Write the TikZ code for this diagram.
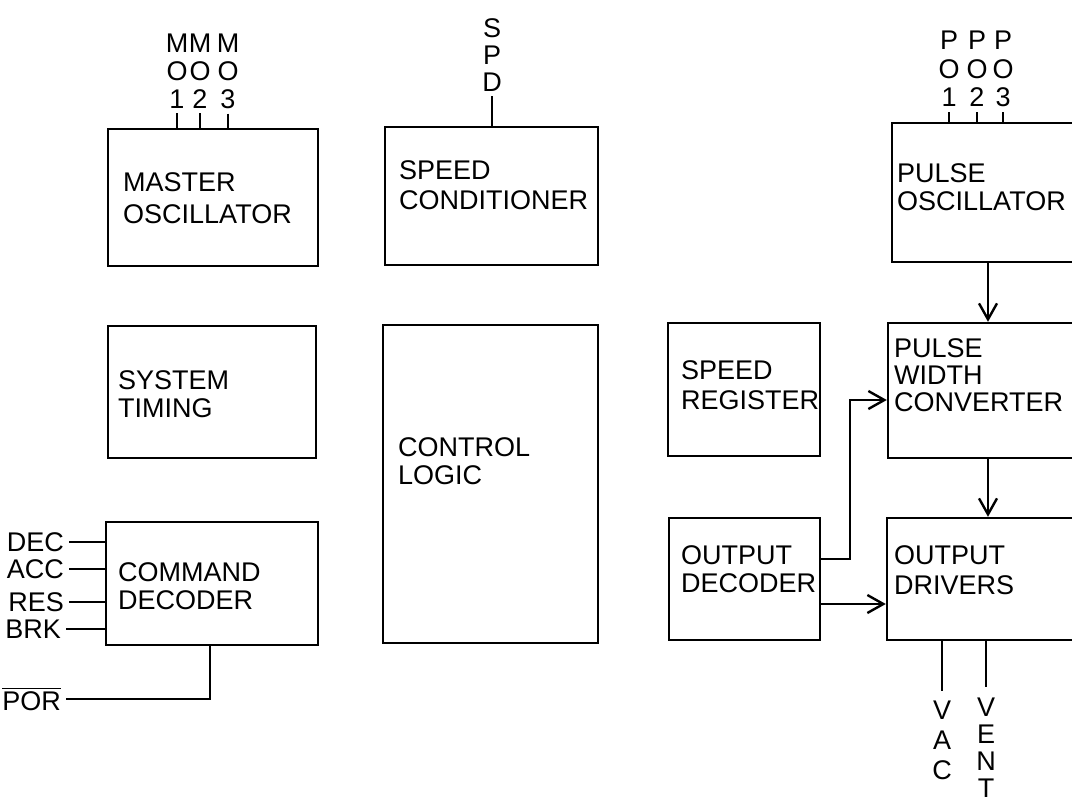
\documentclass[tikz,border=0pt]{standalone}
\usepackage{fontspec}
\setmainfont{Liberation Sans}
\usetikzlibrary{arrows.meta,fit}
\begin{document}
\begin{tikzpicture}[x=0.5pt,y=-0.5pt,
  line width=1.2pt,
  box/.style={draw, inner sep=0pt, line width=1.2pt},
  lbl/.style={inner sep=0pt, anchor=west, align=left, font=\fontsize{13.5}{14}\selectfont},
  pinl/.style={inner sep=2pt, align=center, font=\fontsize{13.5}{14}\selectfont},
  sig/.style={inner sep=2pt, anchor=east, font=\fontsize{13.5}{14}\selectfont},
  arr/.style={-{Straight Barb[length=8pt,width=9pt]}}]
\useasboundingbox (0,0) rectangle (1072,803);
\clip (0,0) rectangle (1072,803);

% boxes
\node[box, fit={(108,129) (318,266)}] (mo) {};
\node[box, fit={(385,127) (598,265)}] (sc) {};
\node[box, fit={(892,123) (1100,262)}] (po) {};
\node[box, fit={(108,326) (316,458)}] (st) {};
\node[box, fit={(383,325) (598,643)}] (cl) {};
\node[box, fit={(668,323) (820,456)}] (sr) {};
\node[box, fit={(888,323) (1100,458)}] (pwc) {};
\node[box, fit={(106,522) (318,645)}] (cd) {};
\node[box, fit={(669,518) (820,640)}] (odec) {};
\node[box, fit={(887,518) (1100,640)}] (odrv) {};

% box texts
\node[lbl, font=\fontsize{13.5}{16}\selectfont] (motx) at (122,198) {MASTER\\OSCILLATOR};
\node[lbl, font=\fontsize{13.5}{15}\selectfont] (sctx) at (398,185) {SPEED\\CONDITIONER};
\node[lbl] (potx) at (896,187) {PULSE\\OSCILLATOR};
\node[lbl] (sttx) at (117,394) {SYSTEM\\TIMING};
\node[lbl] (cltx) at (397,461) {CONTROL\\LOGIC};
\node[lbl, font=\fontsize{13.5}{15}\selectfont] (srtx) at (680,385) {SPEED\\REGISTER};
\node[lbl, font=\fontsize{13.5}{13.5}\selectfont] (pwctx) at (893,375) {PULSE\\WIDTH\\CONVERTER};
\node[lbl] (cdtx) at (117,586) {COMMAND\\DECODER};
\node[lbl] (odectx) at (680,569) {OUTPUT\\DECODER};
\node[lbl, font=\fontsize{13.5}{15}\selectfont] (odrvtx) at (893,570) {OUTPUT\\DRIVERS};

% top pins
\node[pinl] (mo1) at (177,71) {M\\O\\1};
\node[pinl] (mo2) at (200,71) {M\\O\\2};
\node[pinl] (mo3) at (228,71) {M\\O\\3};
\node[pinl, font=\fontsize{13.5}{13.3}\selectfont] (spd) at (492,55) {S\\P\\D};
\node[pinl, font=\fontsize{13.5}{14.3}\selectfont] (po1) at (949,69) {P\\O\\1};
\node[pinl, font=\fontsize{13.5}{14.3}\selectfont] (po2) at (977,69) {P\\O\\2};
\node[pinl, font=\fontsize{13.5}{14.3}\selectfont] (po3) at (1003,69) {P\\O\\3};
\foreach \p/\b in {mo1/mo, mo2/mo, mo3/mo, spd/sc, po1/po, po2/po, po3/po}
  \draw (\p.south) -- (\p.south |- \b.north);

% bottom outputs
\node[pinl, font=\fontsize{13.5}{15}\selectfont] (vac) at (942,740) {V\\A\\C};
\node[pinl, font=\fontsize{13.5}{13.5}\selectfont] (vent) at (986,748) {V\\E\\N\\T};
\draw[shorten >=2pt] (vac.north |- odrv.south) -- (vac.north);
\draw[shorten >=3pt] (vent.north |- odrv.south) -- (vent.north);

% command decoder inputs
\node[sig] (dec) at (69,542) {DEC};
\node[sig] (acc) at (69,569) {ACC};
\node[sig] (res) at (69,602) {RES};
\node[sig] (brk) at (66,629) {BRK};
\node[sig] (por) at (66,699) {$\overline{\hbox{POR}}$};
\foreach \s in {dec, acc, res, brk}
  \draw (\s.east) -- (cd.west |- \s.east);
\coordinate (xpor) at (210,0);
\draw (por.east) -| (xpor |- cd.south);

% right side connectors
\coordinate (xc) at (988,0);
\draw[arr] (po.south -| xc) -- (pwc.north -| xc);
\draw[arr] (pwc.south -| xc) -- (odrv.north -| xc);
\coordinate (ytap) at (0,559);
\coordinate (tap) at (850,400);
\draw[arr] (odec.east |- ytap) -| (tap) -- (tap -| pwc.west);
\coordinate (yout) at (0,604);
\draw[arr] (odec.east |- yout) -- (odrv.west |- yout);
\end{tikzpicture}
\end{document}
